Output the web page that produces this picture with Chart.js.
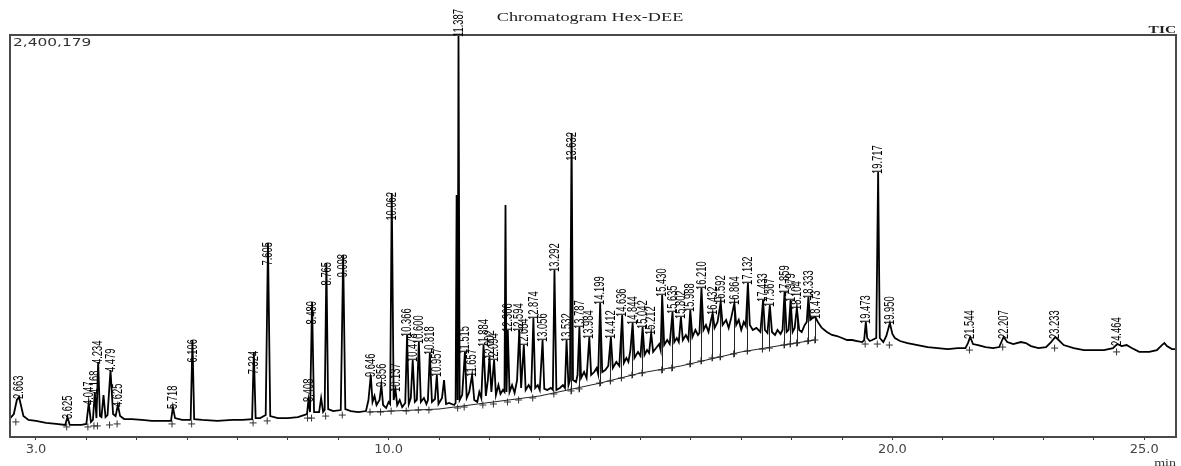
<!DOCTYPE html>
<html><head><meta charset="utf-8">
<script src="https://cdn.jsdelivr.net/npm/chart.js@4/dist/chart.umd.min.js"></script>
<style>html,body{margin:0;padding:0;background:#fff;}#wrap{width:1181px;height:466px;}</style>
</head><body><div id="wrap"><canvas id="c" width="1181" height="466"></canvas></div>
<script>
const chartTitle = "Chromatogram Hex-DEE";
const yMaxLabel = "2,400,179";
const channelLabel = "TIC";
const xUnitLabel = "min";
const xMin = 2.484, xMax = 25.63, yMax = 2400179;
const xTickValues = [3,4,5,6,7,8,9,10,11,12,13,14,15,16,17,18,19,20,21,22,23,24,25];
const xTickLabels = {3:"3.0",10:"10.0",20:"20.0",25:"25.0"};

// TIC trace: [retention time (min), intensity]
const tracePoints = [
[2.49,113000],[2.56,137000],[2.62,221000],[2.663,239000],[2.70,191000],[2.75,125000],[2.85,102000],[3.0,96000],[3.2,84000],[3.4,78000],[3.58,72000],[3.625,119000],[3.67,72000],[3.9,72000],[4.00,78000],[4.047,203000],[4.09,90000],[4.13,102000],[4.168,269000],[4.20,113000],[4.234,448000],[4.27,125000],[4.30,119000],[4.34,251000],[4.38,119000],[4.42,131000],[4.479,400000],[4.53,137000],[4.58,125000],[4.625,191000],[4.67,125000],[4.75,107000],[4.9,107000],[5.1,102000],[5.3,96000],[5.5,96000],[5.68,96000],[5.718,179000],[5.76,113000],[5.9,102000],[6.07,102000],[6.106,579000],[6.14,107000],[6.3,102000],[6.6,96000],[6.9,102000],[7.1,102000],[7.29,107000],[7.324,508000],[7.36,113000],[7.45,113000],[7.56,131000],[7.605,1158000],[7.65,125000],[7.8,113000],[8.0,113000],[8.2,119000],[8.38,137000],[8.408,221000],[8.44,149000],[8.480,806000],[8.52,149000],[8.62,149000],[8.66,233000],[8.70,149000],[8.73,161000],[8.765,1039000],[8.80,167000],[8.9,155000],[9.05,161000],[9.098,1087000],[9.14,167000],[9.25,155000],[9.4,149000],[9.55,155000],
[9.60,221000],[9.646,370000],[9.68,209000],[9.72,245000],[9.76,191000],[9.82,221000],[9.856,310000],[9.89,191000],[9.95,173000],[10.00,209000],[10.03,197000],[10.062,1457000],[10.10,221000],[10.137,281000],[10.17,191000],[10.22,221000],[10.27,179000],[10.33,203000],[10.366,609000],[10.40,197000],[10.44,233000],[10.478,460000],[10.52,209000],[10.56,221000],[10.600,567000],[10.64,209000],[10.70,233000],[10.75,197000],[10.78,221000],[10.818,502000],[10.86,209000],[10.92,227000],[10.957,370000],[10.99,197000],[11.06,233000],[11.10,340000],[11.14,197000],[11.20,203000],[11.30,191000],[11.33,203000],[11.35,1445000],[11.37,221000],[11.387,2400179],[11.41,221000],[11.46,251000],[11.515,508000],[11.55,233000],[11.60,269000],[11.657,370000],[11.70,221000],[11.76,209000],[11.80,269000],[11.84,233000],[11.884,549000],[11.93,245000],[11.97,340000],[12.002,478000],[12.04,269000],[12.094,460000],[12.13,251000],[12.18,310000],[12.22,257000],[12.27,281000],[12.30,269000],[12.32,1385000],[12.34,269000],[12.366,639000],[12.40,269000],[12.45,310000],[12.50,263000],[12.55,340000],[12.594,639000],[12.63,293000],[12.684,549000],[12.72,281000],[12.78,310000],[12.83,281000],[12.874,711000],[12.91,293000],[12.96,310000],[13.00,281000],[13.056,579000],[13.09,287000],[13.15,281000],[13.22,293000],[13.26,281000],[13.292,997000],[13.33,281000],[13.40,293000],[13.46,310000],[13.50,293000],[13.532,579000],[13.57,310000],[13.60,340000],[13.632,1815000],[13.66,340000],[13.72,328000],[13.75,370000],[13.787,657000],[13.82,352000],[13.88,388000],[13.93,352000],[13.984,597000],[14.02,370000],[14.08,388000],[14.13,412000],[14.16,376000],[14.199,800000],[14.24,388000],[14.30,400000],[14.36,424000],[14.412,597000],[14.45,412000],[14.52,448000],[14.58,424000],[14.636,728000],[14.67,442000],[14.72,472000],[14.76,448000],[14.80,519000],[14.844,681000],[14.88,472000],[14.95,508000],[15.00,484000],[15.042,657000],[15.08,490000],[15.13,519000],[15.17,502000],[15.212,621000],[15.25,508000],[15.31,531000],[15.37,555000],[15.40,519000],[15.430,848000],[15.47,549000],[15.53,579000],[15.58,555000],[15.635,746000],[15.67,567000],[15.72,591000],[15.76,567000],[15.802,716000],[15.84,579000],[15.90,609000],[15.95,579000],[15.988,758000],[16.03,597000],[16.09,639000],[16.14,609000],[16.17,621000],[16.210,890000],[16.25,639000],[16.30,669000],[16.35,627000],[16.40,699000],[16.432,740000],[16.47,651000],[16.53,687000],[16.592,806000],[16.63,669000],[16.70,699000],[16.75,651000],[16.80,711000],[16.864,800000],[16.90,669000],[16.95,699000],[17.00,639000],[17.05,687000],[17.09,663000],[17.132,919000],[17.17,669000],[17.23,639000],[17.30,651000],[17.38,627000],[17.433,818000],[17.47,639000],[17.52,621000],[17.567,788000],[17.61,627000],[17.67,609000],[17.72,639000],[17.78,615000],[17.82,639000],[17.859,866000],[17.90,627000],[17.94,639000],[17.979,818000],[18.02,627000],[18.06,651000],[18.104,770000],[18.15,639000],[18.20,627000],[18.26,669000],[18.30,687000],[18.333,836000],[18.37,699000],[18.42,711000],[18.473,716000],[18.52,687000],[18.60,651000],[18.70,627000],[18.80,609000],[18.90,603000],[19.00,591000],[19.10,579000],[19.20,579000],[19.30,573000],[19.40,567000],[19.44,579000],[19.473,687000],[19.50,591000],[19.55,573000],[19.60,579000],[19.68,591000],[19.717,1582000],[19.75,591000],[19.82,567000],[19.88,603000],[19.950,681000],[20.00,615000],[20.05,591000],[20.15,573000],[20.3,561000],[20.5,549000],[20.7,537000],[20.9,531000],[21.1,525000],[21.3,531000],[21.45,531000],[21.50,561000],[21.544,597000],[21.60,555000],[21.7,549000],[21.85,537000],[22.0,531000],[22.12,537000],[22.207,597000],[22.28,567000],[22.40,555000],[22.55,567000],[22.65,561000],[22.75,543000],[22.9,531000],[23.05,537000],[23.15,567000],[23.233,597000],[23.30,579000],[23.40,549000],[23.6,531000],[23.8,519000],[24.0,519000],[24.2,519000],[24.38,531000],[24.464,555000],[24.55,543000],[24.65,549000],[24.75,531000],[24.9,508000],[25.1,508000],[25.25,519000],[25.35,549000],[25.40,561000],[25.45,543000],[25.55,525000],[25.63,525000]
];

// integration baseline under the peak cluster
const integrationBaseline = [[9.6,149000],[11.0,167000],[13.0,245000],[14.2,322000],[15.0,382000],[15.8,424000],[17.0,508000],[18.45,579000]];

// peak start / end markers (+)
const peakMarks = [[2.60,90000],[3.61,60000],[4.03,60000],[4.15,66000],[4.22,66000],[4.46,72000],[4.61,78000],[5.70,78000],[6.09,78000],[7.31,84000],[7.59,96000],[8.39,113000],[8.47,113000],[8.75,125000],[9.08,131000],
[9.63,149000],[9.84,149000],[10.05,155000],[10.35,155000],[10.59,161000],[10.80,161000],[11.37,173000],[11.50,179000],[11.87,191000],[12.08,197000],[12.36,209000],[12.58,221000],[12.86,233000],[13.28,257000],[13.62,275000],[13.78,287000],[14.19,322000],[14.40,334000],[14.62,352000],[14.83,370000],[15.03,382000],[15.42,400000],[15.62,412000],[15.98,436000],[16.20,454000],[16.42,472000],[16.58,478000],[16.85,496000],[17.12,513000],[17.42,525000],[17.56,531000],[17.85,549000],[17.97,555000],[18.10,561000],[18.32,573000],[18.46,579000],
[19.46,555000],[19.70,555000],[19.94,549000],[21.53,519000],[22.19,537000],[23.22,531000],[24.45,508000]];

// peak labels (retention times) and apex intensities
const peakLabels = ["2.663","3.625","4.047","4.168","4.234","4.479","4.625","5.718","6.106","7.324","7.605","8.408","8.480","8.765","9.098","9.646","9.856","10.062","10.137","10.366","10.478","10.600","10.818","10.957","11.387","11.515","11.657","11.884","12.002","12.094","12.366","12.594","12.684","12.874","13.056","13.292","13.532","13.632","13.787","13.984","14.199","14.412","14.636","14.844","15.042","15.212","15.430","15.635","15.802","15.988","16.210","16.432","16.592","16.864","17.132","17.433","17.567","17.859","17.979","18.104","18.333","18.473","19.473","19.717","19.950","21.544","22.207","23.233","24.464"];
const peakApex = [239000,119000,203000,269000,448000,400000,191000,179000,579000,508000,1158000,221000,806000,1039000,1087000,370000,310000,1457000,281000,609000,460000,567000,502000,370000,2400179,508000,370000,549000,478000,460000,639000,639000,549000,711000,579000,997000,579000,1815000,657000,597000,800000,597000,728000,681000,657000,621000,848000,746000,716000,758000,890000,740000,806000,800000,919000,818000,788000,866000,818000,770000,836000,716000,687000,1582000,681000,597000,597000,597000,555000];

const textPlugin = {
  id: 'chromText',
  beforeDatasetsDraw(chart, args, opts) {
    // drop lines from the trace down to the peak start/end marks in the cluster
    const ctx = chart.ctx, xs = chart.scales.x, ys = chart.scales.y;
    const pts = tracePoints.map(p => [xs.getPixelForValue(p[0]), ys.getPixelForValue(p[1])]);
    const traceY = px => {
      for (let i = 1; i < pts.length; i++) {
        if (pts[i][0] >= px) {
          const a = pts[i-1], b = pts[i];
          const f = (px - a[0]) / ((b[0] - a[0]) || 1);
          return a[1] + f * (b[1] - a[1]);
        }
      }
      return pts[pts.length-1][1];
    };
    ctx.save();
    ctx.strokeStyle = '#222';
    ctx.lineWidth = 1;
    peakMarks.forEach(m => {
      if (m[0] < opts.dropFrom || m[0] > opts.dropTo) return;
      const px = xs.getPixelForValue(m[0]);
      const py = ys.getPixelForValue(m[1]);
      ctx.beginPath();
      ctx.moveTo(Math.round(px) + 0.5, py + 3);
      ctx.lineTo(Math.round(px) + 0.5, traceY(px));
      ctx.stroke();
    });
    ctx.restore();
  },
  afterDatasetsDraw(chart, args, opts) {
    const ctx = chart.ctx, a = chart.chartArea;
    const xs = chart.scales.x, ys = chart.scales.y;
    ctx.save();
    ctx.strokeStyle = '#4a4a4a';
    ctx.lineWidth = 2;
    ctx.strokeRect(a.left, a.top, a.right - a.left, a.bottom - a.top);
    ctx.fillStyle = '#000';
    ctx.font = '12px "Liberation Sans", Arial, sans-serif';
    ctx.textBaseline = 'middle';
    peakLabels.forEach((lab, i) => {
      const px = xs.getPixelForValue(parseFloat(lab));
      const py = ys.getPixelForValue(peakApex[i]);
      const hang = opts.hanging.includes(lab);
      ctx.save();
      ctx.translate(px, hang ? py - 1 : py + 2);
      ctx.rotate(-Math.PI / 2);
      ctx.scale(0.78, 1.25);
      ctx.textAlign = hang ? 'right' : 'left';
      ctx.fillText(lab, 0, 0);
      ctx.restore();
    });
    const hText = (txt, x, y, font, align, color) => {
      ctx.save();
      ctx.font = font; ctx.fillStyle = color;
      ctx.textAlign = align; ctx.textBaseline = 'alphabetic';
      ctx.translate(x, y); ctx.scale(1.4, 1);
      ctx.fillText(txt, 0, 0);
      ctx.restore();
    };
    hText(chartTitle, (a.left + a.right) / 2 - 3, 21, '13px "Liberation Serif", serif', 'center', '#222');
    hText(channelLabel, a.right, 33, 'bold 11px "Liberation Serif", serif', 'right', '#222');
    hText(yMaxLabel, a.left + 3, a.top + 11, '11px "DejaVu Sans", sans-serif', 'left', '#333');
    hText(xUnitLabel, a.right, 466, '10px "Liberation Serif", serif', 'right', '#333');
    ctx.restore();
  }
};

new Chart(document.getElementById('c'), {
  type: 'scatter',
  data: {
    datasets: [
      { data: tracePoints.map(p => ({x: p[0], y: p[1]})), showLine: true, borderColor: '#000', borderWidth: 1.8, pointRadius: 0, tension: 0 },
      { data: integrationBaseline.map(p => ({x: p[0], y: p[1]})), showLine: true, borderColor: '#222', borderWidth: 1, pointRadius: 0, tension: 0 },
      { data: peakMarks.map(p => ({x: p[0], y: p[1]})), showLine: false, pointStyle: 'cross', pointRadius: 3.5, borderColor: '#333', borderWidth: 1 }
    ]
  },
  options: {
    responsive: false, animation: false, devicePixelRatio: 1,
    layout: { padding: { left: 10, right: 3, top: 35, bottom: 0 } },
    plugins: {
      legend: { display: false }, tooltip: { enabled: false }, title: { display: false },
      chromText: { hanging: ["6.106","7.324","7.605","8.480","8.765","9.098","10.062","13.632"], dropFrom: 13.5, dropTo: 18.5 }
    },
    scales: {
      x: {
        type: 'linear', min: xMin, max: xMax,
        afterBuildTicks: s => { s.ticks = xTickValues.map(v => ({ value: v })); },
        afterFit: s => { s.height = 29; },
        ticks: { callback: v => xTickLabels[v] || '', autoSkip: false, maxRotation: 0, padding: 2, color: '#444', font: { family: '"DejaVu Sans", sans-serif', size: 13 } },
        grid: { display: true, drawOnChartArea: false, drawTicks: true, tickLength: 3, color: '#333' },
        border: { display: true, color: '#4a4a4a', width: 2 }
      },
      y: { display: false, min: 0, max: yMax }
    }
  },
  plugins: [textPlugin]
});
</script>
</body></html>
